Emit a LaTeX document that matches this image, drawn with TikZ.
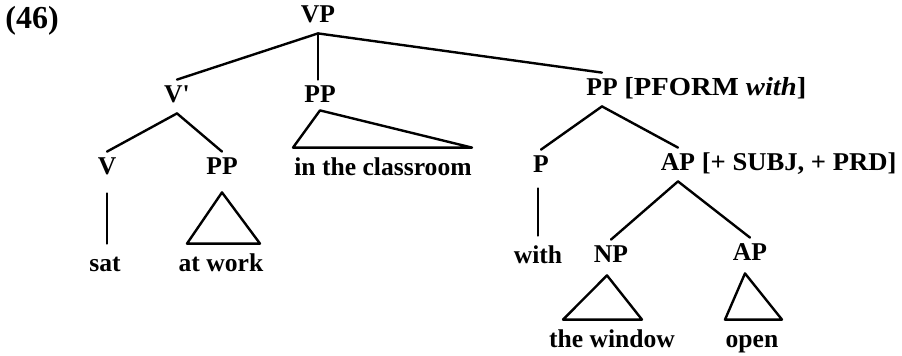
\documentclass[tikz,border=0pt]{standalone}
\usepackage{fontspec}
\setmainfont{Liberation Serif}
\newfontfamily\widefont{Liberation Serif}[FakeStretch=1.1]
\newfontfamily\slightwidefont{Liberation Serif}[FakeStretch=1.04]
\usetikzlibrary{calc}
\begin{document}
\begin{tikzpicture}[x=0.5pt,y=-0.5pt,
  every node/.style={font=\fontsize{12.8}{15}\selectfont\bfseries},
  cat/.style={inner sep=0pt, inner xsep=0.5pt, text height=11pt, text depth=5.5pt, anchor=base},
  leaf/.style={inner sep=0pt, text height=13.5pt, text depth=0pt, anchor=base},
  feat/.style={inner sep=0pt, anchor=base west},
  widefeat/.style={feat, xshift=2.5pt, font=\fontsize{13}{15}\widefont\bfseries},
  apfeat/.style={feat, xshift=2.5pt, font=\fontsize{12.8}{15}\slightwidefont\bfseries},
  branch/.style={line width=1.2pt, line cap=round, line join=round}]
\useasboundingbox (0,0) rectangle (902,355);
% labels
\node[feat, font=\fontsize{16}{18}\selectfont\bfseries] (num) at (5,28) {(46)};
\node[cat] (vp) at (318,22) {VP};
\node[cat] (vbar) at (177,102) {V\textquotesingle};
\node[cat, text depth=4pt] (pp2) at (320,102) {PP};
\node[cat] (pp3) at (602,95) {PP};
\node[widefeat] (pp3f) at (pp3.base east) {[PFORM \textit{with}]};
\node[cat, text depth=9.5pt] (v) at (107,174) {V};
\node[cat, text depth=9pt] (pp4) at (222,174) {PP};
\node[leaf] (class) at (383,175) {in the classroom};
\node[cat, text depth=8pt] (p) at (541,172) {P};
\node[cat] (ap) at (678,170) {AP};
\node[apfeat] (apf) at (ap.base east) {[+ SUBJ, + PRD]};
\node[leaf] (sat) at (105,271) {sat};
\node[leaf] (atwork) at (221,271) {at work};
\node[leaf] (with) at (538,263) {with};
\node[cat, text depth=6.5pt] (np) at (611,262) {NP};
\node[cat, text depth=6.5pt] (ap2) at (750,260) {AP};
\node[leaf] (window) at (612,347) {the window};
\node[leaf] (open) at (752,347) {open};
% branches
\draw[branch] (vp.south) -- (vbar.north);
\draw[branch] (vp.south) -- (vp.south |- pp2.north);
\draw[branch] (vp.south) -- (pp3.north);
\draw[branch] (vbar.south) -- (v.north);
\draw[branch] (vbar.south) -- (pp4.north);
\draw[branch] (v.south) -- (v.south |- sat.north);
\draw[branch] (pp3.south) -- (p.north);
\draw[branch] (pp3.south) -- (ap.north);
\draw[branch] (with.north |- p.south) -- (with.north);
\draw[branch] (ap.south) -- (np.north);
\draw[branch] (ap.south) -- (ap2.north);
% triangles
\draw[branch] (pp4.south) -- ($(atwork.north)+(-34,0)$) -- ($(atwork.north)+(39,0)$) -- cycle;
\draw[branch] (pp2.south) -- ($(class.north)+(-90,0)$) -- ($(class.north)+(89,0)$) -- cycle;
\draw[branch] ($(np.south)+(-4,0)$) -- ($(window.north)+(-49,0)$) -- ($(window.north)+(30,0)$) -- cycle;
\draw[branch] ($(ap2.south)+(-5,0)$) -- ($(open.north)+(-27,0)$) -- ($(open.north)+(30,0)$) -- cycle;
\end{tikzpicture}
\end{document}
